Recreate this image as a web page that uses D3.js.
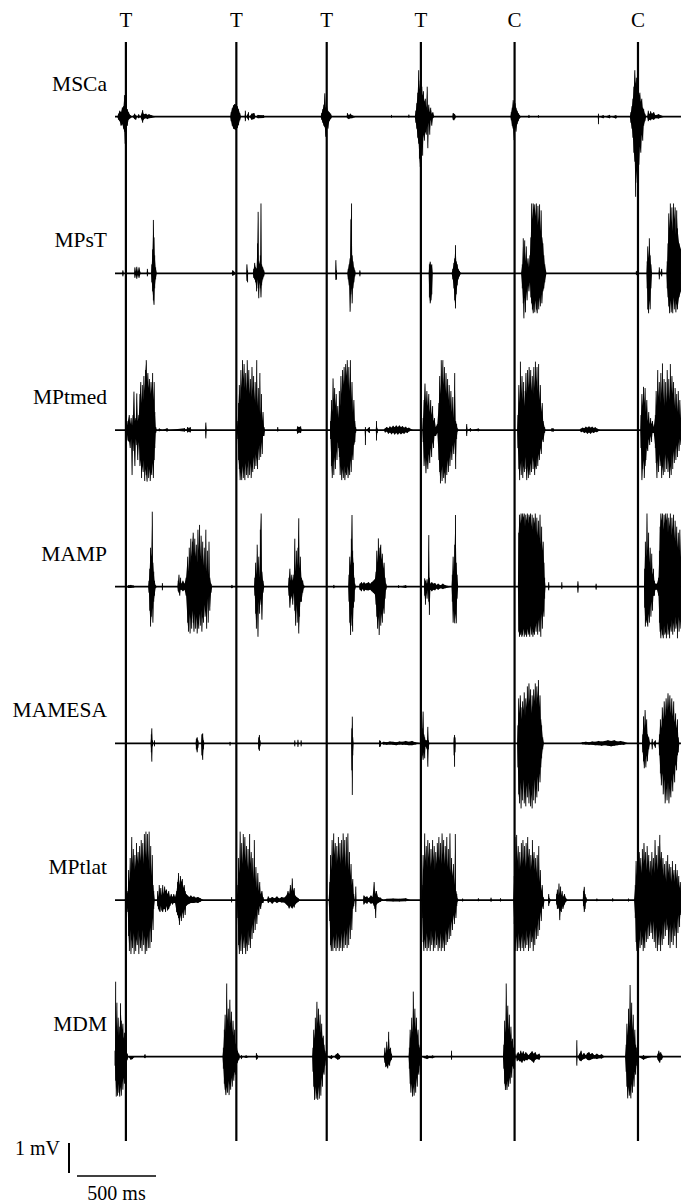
<!DOCTYPE html>
<html>
<head>
<meta charset="utf-8">
<script src="https://cdn.jsdelivr.net/npm/d3@7"></script>
<style>
  body { margin: 0; background: #fff; }
  svg { display: block; }
</style>
</head>
<body>
<div id="container"></div>
<script>
"use strict";

// SECTION: data (time in ms, amplitude in mV: [t, up, down])
const eventTimes = [69, 768, 1340, 1936, 2529, 3310];
const eventLabels = ["T", "T", "T", "T", "C", "C"];
const channelNames = ["MSCa", "MPsT", "MPtmed", "MAMP", "MAMESA", "MPtlat", "MDM"];

const traceMSCa = [
  [0,0,0],[14,0,0],[22,0.1,0.1],[30,0.2,0.15],[38,0.15,0.3],[46,0.3,0.25],[54,0.35,0.4],[60,0.72,0.5],[64,0.4,0.9],[70,0.3,0.35],[78,0.25,0.3],[86,0.15,0.1],[97,0.05,0.05],
  [110,0,0],[124,0.1,0.08],[132,0.05,0.1],[140,0,0],[150,0.08,0.05],[160,0,0],[175,0.22,0.2],[180,0.1,0.1],[188,0.08,0.06],[196,0.1,0.05],[205,0.06,0.08],[215,0.08,0.05],[230,0.05,0.04],[262,0,0],
  [729,0,0],[735,0.15,0.15],[742,0.28,0.3],[750,0.38,0.4],[758,0.42,0.42],[766,0.4,0.45],[774,0.35,0.38],[782,0.25,0.28],[790,0.12,0.12],[798,0,0],
  [820,0,0],[825,0.2,0.15],[830,0,0],[845,0.15,0.12],[850,0,0],[865,0.1,0.1],[880,0.12,0.08],[890,0,0],[905,0.06,0.05],[940,0.05,0.04],[950,0,0],
  [1301,0,0],[1308,0.12,0.1],[1315,0.25,0.2],[1322,0.4,0.3],[1328,0.78,0.35],[1334,0.3,0.67],[1340,0.35,0.3],[1348,0.2,0.4],[1356,0.15,0.15],[1365,0.1,0.08],[1375,0,0],
  [1465,0,0],[1471,0.12,0.05],[1480,0.05,0.08],[1490,0.1,0.05],[1500,0.05,0.05],[1526,0,0],
  [1745,0,0],[1750,0.06,0.03],[1755,0,0],[1855,0,0],[1860,0.07,0.03],[1865,0,0],
  [1897,0,0],[1904,0.2,0.2],[1910,0.45,0.4],[1916,0.8,0.7],[1922,1.55,0.9],[1927,0.9,1.4],[1932,1.2,1.67],[1937,0.8,1.1],[1942,1.0,0.9],[1947,0.7,1.3],[1952,0.85,0.6],[1958,0.5,0.8],[1964,0.6,0.5],[1970,0.3,0.6],[1976,1.0,0.3],[1980,0.2,1.05],[1986,0.4,0.2],[1992,0.15,0.6],[1998,0.3,0.1],[2005,0.1,0.3],[2012,0.15,0.05],[2021,0,0],
  [2135,0,0],[2140,0.12,0.1],[2145,0.1,0.12],[2150,0.08,0.08],[2160,0,0],
  [2502,0,0],[2508,0.15,0.12],[2514,0.3,0.3],[2520,0.55,0.4],[2526,0.35,0.78],[2532,0.45,0.35],[2538,0.3,0.5],[2545,0.2,0.25],[2552,0.12,0.15],[2560,0.06,0.06],[2571,0,0],
  [2615,0,0],[2620,0.06,0.04],[2625,0,0],[2675,0,0],[2680,0.05,0.03],[2685,0,0],
  [3055,0,0],[3060,0.1,0.25],[3065,0,0],[3090,0.05,0.05],[3100,0,0],[3130,0.06,0.05],[3140,0,0],[3170,0.05,0.06],[3180,0,0],
  [3258,0,0],[3265,0.15,0.2],[3272,0.35,0.4],[3278,0.6,0.7],[3284,1.0,1.2],[3290,1.55,1.5],[3295,1.1,2.67],[3300,1.3,1.8],[3305,0.9,2.2],[3310,1.1,1.4],[3316,0.7,1.6],[3322,0.8,1.0],[3328,0.5,1.2],[3334,0.6,0.6],[3340,0.3,0.8],[3346,0.25,0.3],[3354,0.1,0.15],[3362,0,0],
  [3368,0,0],[3375,0.2,0.15],[3382,0.08,0.1],[3390,0.18,0.12],[3398,0.1,0.08],[3410,0.15,0.1],[3420,0.05,0.05],[3440,0.08,0.06],[3478,0,0],[3582,0,0]
];

const traceMPsT = [
  [0,0,0],[45,0,0],[50,0.1,0.1],[56,0,0],
  [121,0,0],[126,0.2,0.15],[132,0.05,0.05],[138,0.22,0.18],[145,0.05,0.05],[152,0.2,0.15],[163,0,0],
  [200,0,0],[205,0.15,0.1],[212,0,0],
  [228,0,0],[233,0.3,0.3],[238,0.8,0.6],[243,1.78,0.9],[247,1.2,1.05],[251,0.6,0.5],[257,0.2,0.2],[265,0,0],
  [737,0,0],[745,0.1,0.08],[755,0.05,0.05],[761,0,0],
  [831,0,0],[835,0.3,0.25],[839,0.1,0.3],[843,0,0],
  [872,0,0],[878,0.15,0.15],[884,0.35,0.2],[890,0.2,0.3],[896,0.15,0.6],[902,1.0,0.2],[906,2.05,0.5],[910,0.4,0.83],[915,0.3,0.3],[920,0.6,0.5],[924,2.33,0.8],[928,0.3,0.4],[935,0.2,0.2],[942,0.1,0.1],[948,0,0],
  [1394,0,0],[1398,0.44,0.22],[1402,0.1,0.2],[1406,0,0],
  [1470,0,0],[1476,0.15,0.2],[1482,0.3,0.4],[1488,0.5,1.28],[1493,1.8,0.7],[1497,2.33,0.5],[1501,0.6,1.0],[1506,0.4,0.5],[1512,0.2,0.3],[1518,0.1,0.1],[1523,0,0],
  [1545,0,0],[1550,0.1,0.1],[1555,0,0],
  [1930,0,0],[1935,0.08,0.08],[1940,0,0],
  [1985,0,0],[1990,0.3,0.8],[1995,0.39,1.0],[2000,0.25,0.9],[2005,0.3,0.7],[2011,0,0],
  [2130,0,0],[2138,0.15,0.2],[2145,0.35,0.5],[2150,0.5,0.9],[2155,0.94,1.17],[2160,0.4,0.7],[2166,0.3,0.4],[2172,0.15,0.2],[2180,0.08,0.1],[2191,0,0],
  [2570,0,0],[2578,0.3,0.5],[2584,1.17,1.0],[2588,0.5,1.5],[2593,1.1,0.8],[2598,0.4,1.3],[2603,0.9,0.6],[2608,0.3,0.9],[2614,0.5,0.4],[2620,0.2,0.6],[2626,0.6,0.3],[2632,1.2,0.8],[2637,2.33,1.0],[2642,1.8,1.2],[2647,2.33,1.33],[2652,2.1,1.0],[2657,2.3,1.3],[2662,1.9,0.9],[2667,2.33,1.2],[2672,1.6,1.33],[2677,2.25,0.9],[2682,1.7,1.2],[2687,2.3,0.8],[2692,1.4,1.1],[2697,2.1,0.7],[2702,1.2,1.0],[2708,1.0,0.6],[2714,0.6,0.5],[2720,0.3,0.3],[2731,0,0],
  [3295,0,0],[3300,0.08,0.06],[3305,0,0],
  [3364,0,0],[3368,0.4,0.5],[3372,0.9,1.2],[3377,0.5,1.33],[3382,1.17,0.9],[3387,0.6,1.2],[3392,0.3,0.5],[3399,0,0],
  [3440,0,0],[3445,0.2,0.2],[3450,0,0],[3460,0.15,0.1],[3465,0,0],
  [3490,0,0],[3495,0.4,0.5],[3500,1.0,0.8],[3505,2.0,1.1],[3510,1.5,1.33],[3515,2.33,0.9],[3520,1.7,1.3],[3525,2.2,1.0],[3530,1.4,1.33],[3535,2.33,0.8],[3540,1.8,1.2],[3545,2.2,0.9],[3550,1.3,1.3],[3555,2.1,1.0],[3560,1.5,1.2],[3570,1.0,0.8],[3582,0.8,0.6]
];

const traceMPtmed = [
  [0,0,0],[60,0,0],[74,0.1,0.1],[82,0.3,0.35],[90,0.5,0.4],[96,0.2,0.6],[102,0.4,0.3],[108,0.15,1.5],[114,0.5,0.4],[120,1.28,0.7],[126,0.3,1.2],[132,0.4,0.3],[138,1.22,0.5],[144,0.3,1.0],[151,0.5,0.4],
  [158,1.2,1.2],[163,1.6,1.0],[168,0.9,1.6],[173,1.5,1.2],[178,1.0,1.4],[183,1.8,1.0],[188,1.3,1.7],[193,2.0,1.3],[198,2.33,1.5],[203,1.6,1.72],[208,1.9,1.2],[213,1.4,1.6],[218,1.7,1.3],[223,1.2,1.7],[228,1.6,1.4],[233,1.3,1.5],[238,1.9,1.1],[243,1.0,1.6],[248,1.6,1.0],[252,0.6,0.6],[258,0.1,0.1],[265,0,0],
  [275,0,0],[280,0.05,0.04],[300,0,0],[330,0.06,0.05],[340,0,0],[440,0.06,0.05],[450,0,0],[460,0.1,0.08],[468,0.05,0.05],[476,0.1,0.08],[484,0,0],[570,0,0],[575,0.25,0.28],[580,0,0],
  [770,0,0],[777,0.3,0.3],[782,0.9,1.0],[787,1.5,1.3],[792,1.0,1.67],[797,2.0,1.4],[802,1.4,1.67],[807,2.33,1.2],[812,1.7,1.6],[817,2.2,1.3],[822,1.4,1.67],[827,1.9,1.1],[832,1.3,1.5],[837,2.33,1.2],[842,1.5,1.6],[847,2.0,1.0],[852,1.2,1.5],[857,1.7,1.1],[862,1.1,1.6],[867,2.1,1.2],[872,1.3,1.4],[877,1.8,0.9],[882,1.0,1.3],[887,1.6,0.8],[892,0.9,1.2],[897,2.33,0.9],[902,0.8,1.3],[907,1.4,0.6],[912,0.6,1.0],[917,1.9,0.5],[922,0.5,0.9],[927,1.2,0.4],[932,0.3,0.8],[937,0.6,0.2],[943,0.1,0.2],[950,0,0],
  [1025,0,0],[1030,0.1,0.05],[1035,0,0],[1148,0,0],[1155,0.12,0.12],[1165,0.1,0.08],[1175,0.12,0.1],[1183,0,0],
  [1360,0,0],[1364,0.3,0.3],[1370,1.0,1.2],[1375,0.6,1.6],[1380,1.72,1.0],[1385,1.0,1.5],[1390,1.4,0.9],[1395,0.8,1.3],[1400,1.2,0.7],[1405,0.5,1.0],[1410,0.8,0.4],[1415,0.4,0.6],[1420,1.3,0.9],[1425,0.8,1.5],[1430,1.8,1.2],[1435,1.2,1.67],[1440,2.0,1.3],[1445,1.5,1.6],[1450,2.1,1.2],[1455,1.6,1.67],[1460,2.2,1.4],[1465,1.8,1.5],[1470,2.33,1.2],[1475,1.5,1.6],[1480,2.1,1.3],[1485,1.3,1.5],[1490,2.33,1.0],[1495,1.0,1.4],[1500,1.6,0.8],[1506,0.6,1.0],[1512,1.0,0.5],[1518,0.3,0.4],[1523,0.1,0.1],[1530,0,0],
  [1580,0,0],[1585,0.1,0.5],[1590,0,0],[1610,0.1,0.1],[1615,0,0],[1650,0,0],[1655,0.3,0.35],[1660,0.05,0.1],[1665,0,0],
  [1700,0,0],[1710,0.06,0.08],[1720,0.1,0.05],[1730,0.06,0.12],[1740,0.12,0.08],[1750,0.08,0.14],[1760,0.14,0.09],[1770,0.09,0.15],[1780,0.15,0.1],[1790,0.1,0.15],[1800,0.15,0.1],[1810,0.1,0.14],[1820,0.13,0.1],[1830,0.08,0.12],[1840,0.11,0.07],[1850,0.06,0.1],[1860,0.08,0.05],[1886,0,0],
  [1945,0,0],[1950,0.4,0.4],[1956,1.0,1.2],[1962,1.55,0.9],[1968,0.9,1.44],[1974,1.3,1.0],[1980,0.8,1.3],[1986,1.2,0.8],[1992,0.6,1.1],[1998,1.0,0.6],[2004,0.5,0.9],[2010,0.8,0.4],[2016,0.3,0.6],[2022,0.4,0.2],[2030,0.1,0.2],[2040,0.2,0.1],
  [2050,0.9,1.0],[2055,1.8,1.4],[2060,1.2,1.78],[2065,2.33,1.3],[2070,1.6,1.7],[2075,2.33,1.2],[2080,1.5,1.6],[2085,2.1,1.4],[2090,1.3,1.78],[2095,1.9,1.2],[2100,1.2,1.5],[2105,1.7,1.0],[2110,1.0,1.4],[2115,1.5,0.9],[2120,0.8,1.2],[2126,1.3,0.7],[2132,0.6,1.0],[2138,1.1,0.5],[2144,0.4,0.8],[2150,1.9,0.4],[2156,0.3,1.3],[2162,0.2,0.3],[2168,0.05,0.05],[2175,0,0],
  [2220,0,0],[2226,0.2,0.2],[2232,0,0],[2250,0.06,0.05],[2260,0,0],[2300,0.05,0.04],[2310,0,0],
  [2545,0,0],[2550,0.5,0.6],[2556,1.5,1.3],[2561,0.9,1.67],[2566,2.28,1.1],[2571,1.2,1.5],[2576,1.8,1.0],[2581,1.0,1.6],[2586,1.6,1.2],[2591,0.8,1.4],[2596,1.3,0.9],[2601,1.9,1.3],[2606,1.2,1.67],[2611,2.0,1.2],[2616,1.4,1.6],[2621,2.1,1.3],[2626,1.5,1.5],[2631,2.0,1.1],[2636,1.3,1.4],[2641,1.8,0.9],[2646,1.2,1.3],[2651,2.1,1.0],[2656,1.4,1.5],[2661,2.28,1.2],[2666,1.6,1.3],[2671,2.1,0.9],[2676,1.3,1.2],[2681,2.2,0.8],[2686,1.0,1.0],[2692,1.5,0.6],[2698,0.6,0.8],[2704,0.9,0.3],[2710,0.3,0.4],[2719,0.1,0.1],[2726,0,0],
  [2760,0,0],[2765,0.06,0.05],[2775,0.05,0.05],[2780,0,0],
  [2940,0,0],[2950,0.05,0.07],[2960,0.08,0.05],[2970,0.06,0.1],[2980,0.11,0.07],[2990,0.08,0.12],[3000,0.12,0.08],[3010,0.08,0.12],[3020,0.11,0.07],[3030,0.07,0.1],[3040,0.09,0.06],[3050,0.05,0.07],[3071,0,0],
  [3325,0,0],[3329,0.5,0.6],[3335,1.2,1.67],[3340,0.8,1.3],[3345,1.44,1.0],[3350,0.9,1.6],[3355,1.4,1.2],[3360,0.6,1.0],[3366,1.0,0.6],[3372,0.3,0.7],[3378,0.6,0.3],[3384,0.2,0.5],[3390,0.4,0.2],[3396,0.2,0.4],[3402,0.3,0.1],[3410,0.1,0.1],
  [3420,0.5,0.6],[3425,1.3,1.1],[3430,0.8,1.6],[3435,2.0,1.0],[3440,1.1,1.4],[3445,1.6,0.8],[3450,0.9,1.2],[3455,1.9,1.0],[3460,1.2,1.6],[3465,2.22,1.2],[3470,1.0,1.5],[3475,1.7,0.9],[3480,0.8,1.4],[3485,1.6,0.8],[3490,0.9,1.3],[3495,2.0,0.9],[3500,1.1,1.4],[3505,1.7,1.0],[3510,1.0,1.6],[3515,2.2,1.2],[3520,1.3,1.5],[3525,1.8,0.8],[3530,1.2,1.3],[3535,1.6,0.7],[3540,0.8,1.1],[3545,1.4,0.6],[3550,0.7,1.0],[3555,1.2,0.5],[3560,0.6,0.9],[3565,1.3,0.4],[3570,0.5,0.7],[3575,1.0,0.3],[3582,0.4,0.5]
];

const traceMAMP = [
  [0,0,0],[75,0,0],[85,0.05,0.04],[100,0.06,0.04],[115,0.04,0.03],[135,0,0],
  [210,0,0],[215,0.2,0.2],[220,0.6,0.8],[225,1.3,1.33],[230,1.0,1.0],[236,2.5,0.7],[240,0.8,1.2],[245,0.5,0.5],[250,0.2,0.3],[257,0.05,0.05],[265,0,0],
  [296,0,0],[300,0.12,0.12],[304,0,0],
  [395,0,0],[400,0.2,0.15],[405,0.4,0.2],[410,0.1,0.3],[415,0.3,0.1],[420,0.1,0.1],[430,0.2,0.15],[440,0.1,0.1],[450,0.3,0.3],[460,1.0,1.2],[465,0.5,1.5],[470,1.3,0.9],[475,0.8,1.56],[480,1.6,1.0],[485,1.0,1.4],[490,1.5,0.8],[495,1.8,1.2],[500,1.1,1.5],[505,1.6,0.9],[510,1.0,1.4],[515,1.4,1.0],[520,0.8,1.56],[525,1.9,1.2],[530,1.2,1.4],[535,2.06,0.9],[540,1.0,1.3],[545,1.7,0.8],[550,0.9,1.5],[555,1.5,1.0],[560,0.7,1.2],[565,1.3,0.6],[570,0.6,1.0],[575,1.9,0.8],[580,0.5,1.4],[585,1.2,0.4],[590,0.4,1.2],[595,1.5,0.3],[600,0.3,0.8],[608,0.1,0.2],[615,0,0],
  [730,0,0],[740,0.06,0.05],[750,0,0],
  [880,0,0],[885,0.3,0.3],[890,0.8,0.9],[895,0.4,1.4],[900,1.4,0.8],[905,0.6,1.67],[910,1.0,0.5],[915,0.3,0.9],[920,1.9,0.4],[925,2.44,0.6],[930,0.5,1.1],[937,0.2,0.2],[945,0,0],
  [1095,0,0],[1101,0.3,0.3],[1107,0.6,0.7],[1113,0.2,0.4],[1119,0.4,0.3],[1125,0.2,0.6],[1132,0.4,0.2],[1138,1.6,0.8],[1143,0.5,1.3],[1148,1.2,0.6],[1153,0.7,1.2],[1158,1.3,0.8],[1163,2.28,1.56],[1168,0.6,1.0],[1173,1.0,0.5],[1180,0.3,0.5],[1188,0.2,0.2],[1195,0.05,0.05],[1202,0,0],
  [1380,0,0],[1385,0.06,0.05],[1392,0,0],
  [1476,0,0],[1481,0.4,0.5],[1486,1.0,1.2],[1491,0.7,1.61],[1496,1.6,0.9],[1500,2.39,1.3],[1504,1.2,1.5],[1509,0.8,0.7],[1514,0.3,0.5],[1518,0.1,0.1],[1525,0,0],
  [1545,0,0],[1550,0.1,0.1],[1560,0.15,0.15],[1568,0.1,0.08],[1576,0.15,0.15],[1585,0.1,0.1],[1595,0.12,0.12],[1605,0.15,0.12],[1615,0.1,0.1],[1625,0.15,0.15],[1635,0.2,0.2],[1645,0.25,0.25],
  [1652,0.5,0.6],[1657,1.2,1.0],[1662,0.8,1.4],[1667,1.61,1.0],[1672,1.0,1.61],[1677,1.3,0.8],[1682,1.4,1.3],[1687,0.9,0.9],[1692,1.1,1.2],[1697,0.6,0.7],[1703,0.8,0.9],[1709,0.3,0.4],[1715,0.1,0.1],[1722,0,0],
  [1790,0,0],[1795,0.05,0.04],[1800,0,0],[1840,0.05,0.04],[1850,0,0],
  [1955,0,0],[1960,0.28,0.3],[1965,0.2,0.6],[1970,0.1,0.2],[1975,0.25,0.4],[1980,0.1,0.1],[1986,1.72,0.5],[1990,0.3,0.94],[1996,0.1,0.1],[2005,0.15,0.15],[2015,0.1,0.1],[2025,0.12,0.12],[2035,0.06,0.06],[2045,0.1,0.1],[2060,0.05,0.05],[2075,0.1,0.08],[2090,0.05,0.05],
  [2130,0,0],[2135,0.4,0.5],[2140,1.0,1.2],[2145,0.5,0.8],[2150,1.4,1.22],[2155,2.39,0.9],[2160,0.8,1.22],[2165,0.4,0.4],[2172,0,0],
  [2550,0,0],[2555,1.8,1.5],[2560,2.4,1.67],[2565,2.1,1.6],[2570,2.44,1.5],[2575,2.2,1.67],[2580,2.44,1.6],[2585,2.3,1.4],[2590,2.44,1.67],[2595,2.0,1.5],[2600,2.4,1.6],[2605,2.2,1.67],[2610,2.44,1.4],[2615,2.1,1.6],[2620,2.4,1.5],[2625,2.3,1.67],[2630,2.44,1.3],[2635,2.0,1.6],[2640,2.4,1.4],[2645,1.9,1.67],[2650,2.3,1.5],[2655,2.1,1.6],[2660,2.44,1.3],[2665,1.8,1.5],[2670,2.3,1.2],[2675,1.7,1.6],[2680,2.2,1.1],[2685,1.6,1.5],[2690,2.4,1.0],[2695,1.4,1.67],[2700,2.0,0.9],[2705,1.2,1.4],[2710,1.5,0.8],[2715,0.8,1.0],[2719,0.3,0.4],[2725,0,0],
  [2740,0,0],[2745,0.15,0.12],[2750,0,0],[2825,0,0],[2828,0.15,0.08],[2832,0,0],[2925,0,0],[2930,0.18,0.2],[2935,0,0],[3040,0,0],[3045,0.1,0.1],[3050,0,0],
  [3348,0,0],[3352,0.6,0.7],[3357,1.5,1.33],[3362,1.0,1.1],[3367,2.44,1.2],[3372,1.2,1.33],[3377,1.8,0.9],[3382,0.8,1.2],[3387,1.3,0.6],[3392,0.6,1.0],[3397,1.1,0.5],[3402,0.4,0.8],[3408,0.6,0.3],[3414,0.2,0.3],[3420,0.1,0.1],[3430,0.1,0.1],[3440,0.3,0.3],
  [3446,1.2,1.2],[3450,2.0,1.5],[3455,2.44,1.72],[3460,2.2,1.4],[3465,2.44,1.6],[3470,1.9,1.72],[3475,2.4,1.3],[3480,2.1,1.6],[3485,2.44,1.5],[3490,2.2,1.72],[3495,2.44,1.2],[3500,1.8,1.6],[3505,2.3,1.4],[3510,2.0,1.72],[3515,2.44,1.3],[3520,1.7,1.5],[3525,2.3,1.1],[3530,1.9,1.6],[3535,2.4,1.2],[3540,1.6,1.5],[3545,2.2,1.0],[3550,1.5,1.4],[3555,2.0,1.2],[3560,1.3,1.72],[3565,1.8,1.0],[3570,1.2,1.5],[3575,1.9,1.1],[3582,1.0,1.4]
];

const traceMAMESA = [
  [0,0,0],[225,0,0],[230,0.3,0.3],[233,0.5,0.61],[237,0.1,0.1],[245,0,0],[250,0.1,0.1],[255,0,0],
  [510,0,0],[515,0.15,0.2],[520,0.2,0.3],[525,0.1,0.15],[530,0,0],[545,0,0],[550,0.3,0.4],[555,0.33,0.55],[560,0.1,0.2],[566,0,0],
  [725,0,0],[728,0.05,0.08],[732,0,0],
  [905,0,0],[910,0.2,0.2],[914,0.28,0.25],[918,0.1,0.1],[922,0,0],
  [1135,0,0],[1138,0.1,0.1],[1142,0,0],[1155,0,0],[1158,0.12,0.12],[1162,0,0],[1175,0,0],[1178,0.1,0.1],[1182,0,0],
  [1495,0,0],[1499,0.5,0.9],[1502,0.89,1.72],[1505,0.2,0.4],[1510,0,0],
  [1670,0,0],[1675,0.1,0.12],[1680,0.08,0.1],[1685,0,0],[1700,0.05,0.04],[1720,0.04,0.05],[1740,0.06,0.04],[1760,0.05,0.05],[1780,0.04,0.06],[1800,0.06,0.04],[1820,0.05,0.05],[1840,0.08,0.05],[1860,0.05,0.06],[1880,0.08,0.06],[1900,0.04,0.04],[1935,0,0],
  [1940,0,0],[1945,0.5,0.4],[1950,1.06,0.55],[1955,0.3,0.3],[1960,0.2,0.5],[1965,0.1,0.1],[1975,0.1,0.2],[1980,0.55,0.78],[1984,0.1,0.2],[1990,0,0],
  [2143,0,0],[2146,0.2,0.4],[2149,0.28,0.78],[2152,0.2,0.3],[2156,0,0],
  [2545,0,0],[2550,0.6,0.8],[2555,1.5,1.7],[2560,1.0,2.0],[2565,1.6,1.3],[2570,1.2,2.17],[2575,0.8,1.5],[2580,1.4,1.9],[2585,1.1,1.2],[2590,1.7,2.0],[2595,0.9,1.6],[2600,1.5,2.1],[2605,1.2,1.4],[2610,1.9,1.8],[2615,1.3,1.3],[2620,2.0,2.0],[2625,1.4,1.5],[2630,1.8,2.1],[2635,1.0,1.7],[2640,1.6,2.17],[2645,1.2,1.4],[2650,1.8,1.9],[2655,1.4,1.2],[2660,2.0,2.0],[2665,1.3,1.5],[2670,1.9,1.8],[2675,1.5,1.1],[2680,2.11,1.6],[2685,1.2,1.0],[2690,1.6,1.3],[2695,0.8,0.8],[2700,0.6,0.5],[2707,0.2,0.2],[2715,0,0],
  [2940,0,0],[2960,0.04,0.03],[2980,0.05,0.04],[3000,0.04,0.05],[3020,0.06,0.05],[3040,0.05,0.06],[3060,0.08,0.06],[3080,0.06,0.08],[3100,0.08,0.06],[3120,0.1,0.08],[3140,0.08,0.1],[3160,0.1,0.08],[3180,0.06,0.06],[3200,0.08,0.05],[3220,0.05,0.05],[3250,0,0],
  [3335,0,0],[3340,0.3,0.3],[3345,0.9,0.6],[3350,0.5,0.83],[3355,1.11,0.5],[3360,0.6,0.8],[3365,0.8,0.4],[3370,0.3,0.6],[3378,0.2,0.2],[3387,0,0],
  [3395,0,0],[3400,0.15,0.2],[3405,0,0],[3420,0.1,0.15],[3425,0,0],
  [3440,0,0],[3446,0.3,0.4],[3452,0.8,1.0],[3458,0.5,1.4],[3464,1.2,1.0],[3470,0.8,1.7],[3476,1.4,1.2],[3482,0.9,2.0],[3488,1.5,1.5],[3494,1.1,1.9],[3500,1.67,1.3],[3506,1.2,2.0],[3512,1.6,1.5],[3518,1.0,1.8],[3524,1.5,1.2],[3530,0.9,1.6],[3536,1.4,1.0],[3542,0.7,1.3],[3548,1.0,0.7],[3554,0.5,0.9],[3560,0.8,0.4],[3565,0.2,0.3],[3572,0,0],[3582,0,0]
];

const traceMPtlat = [
  [0,0,0],[60,0,0],[70,0.1,0.1],[81,0.3,0.4],[86,1.0,1.2],[91,0.6,1.7],[96,1.4,1.0],[101,0.9,1.8],[106,2.1,1.3],[111,1.2,1.6],[116,1.7,1.1],[121,1.0,1.8],[126,1.5,1.2],[131,1.1,1.7],[136,1.9,1.3],[141,1.3,1.5],[146,1.6,1.0],[151,1.2,1.8],[156,1.8,1.2],[161,1.3,1.6],[166,2.0,1.3],[171,1.4,1.7],[176,1.9,1.0],[181,1.2,1.5],[186,2.2,1.2],[191,1.5,1.8],[196,2.28,1.3],[201,1.4,1.7],[206,2.2,1.2],[211,1.3,1.6],[216,2.28,1.0],[221,1.0,1.6],[226,1.8,0.9],[231,0.8,1.4],[236,1.5,0.6],[241,0.5,1.0],[245,0.3,0.3],[252,0,0],
  [265,0,0],[270,0.3,0.2],[275,0.1,0.3],[280,0.5,0.35],[285,0.2,0.4],[290,0.4,0.2],[296,0.15,0.35],[302,0.5,0.4],[308,0.2,0.3],[314,0.45,0.3],[320,0.3,0.4],[326,0.35,0.2],[332,0.2,0.35],[340,0.3,0.3],[348,0.1,0.2],[356,0.2,0.1],[364,0.1,0.15],[372,0.2,0.1],[380,0.1,0.1],[390,0.3,0.4],[396,0.6,0.5],[402,0.9,0.6],[408,0.5,0.83],[414,0.8,0.5],[420,0.6,0.7],[426,0.7,0.4],[432,0.4,0.6],[438,0.5,0.3],[444,0.3,0.5],[450,0.2,0.2],[460,0.15,0.15],[470,0.1,0.12],[480,0.15,0.1],[490,0.1,0.1],[500,0.12,0.1],[510,0.08,0.08],[525,0.1,0.1],[540,0.06,0.06],[560,0,0],
  [735,0,0],[738,0.1,0.08],[742,0,0],
  [770,0,0],[777,0.5,0.6],[782,1.4,1.5],[787,0.9,1.8],[792,2.28,1.3],[797,1.3,1.7],[802,1.9,1.1],[807,1.2,1.8],[812,2.2,1.3],[817,1.5,1.6],[822,2.1,1.2],[827,1.3,1.8],[832,1.8,1.4],[837,1.1,1.7],[842,1.7,1.0],[847,1.0,1.5],[852,2.2,1.2],[857,1.2,1.6],[862,1.6,0.9],[867,0.9,1.3],[872,1.4,0.8],[877,0.7,1.1],[882,2.0,0.6],[887,0.6,1.0],[892,1.1,0.5],[898,0.4,0.8],[904,0.9,0.3],[910,0.3,0.5],[916,0.6,0.2],[922,0.2,0.3],[930,0.3,0.1],[937,0.1,0.1],[945,0,0],
  [960,0,0],[970,0.12,0.1],[980,0.05,0.05],[995,0.1,0.12],[1010,0.06,0.05],[1025,0.12,0.1],[1040,0.05,0.06],[1055,0.1,0.08],[1070,0.08,0.08],[1085,0.15,0.15],[1095,0.3,0.2],[1102,0.2,0.28],[1110,0.5,0.2],[1116,0.3,0.25],[1122,0.72,0.28],[1128,0.3,0.2],[1134,0.4,0.25],[1140,0.15,0.15],[1150,0.1,0.1],[1160,0.06,0.06],[1171,0,0],
  [1352,0,0],[1359,0.6,0.7],[1364,1.5,1.5],[1369,1.0,1.7],[1374,2.0,1.3],[1379,1.4,1.7],[1384,2.22,1.2],[1389,1.5,1.6],[1394,1.9,1.3],[1399,1.2,1.7],[1404,1.8,1.1],[1409,1.3,1.6],[1414,2.1,1.2],[1419,1.4,1.7],[1424,1.9,1.3],[1429,1.2,1.6],[1434,2.0,1.1],[1439,1.3,1.7],[1444,2.22,1.2],[1449,1.4,1.6],[1454,2.0,1.0],[1459,1.1,1.5],[1464,2.1,1.1],[1469,1.2,1.6],[1474,2.22,0.9],[1479,1.0,1.5],[1484,1.6,0.8],[1489,0.8,1.3],[1494,1.2,0.6],[1499,0.5,1.0],[1505,0.7,0.3],[1511,0.2,0.2],[1518,0,0],
  [1520,0,0],[1524,0.45,0.4],[1528,0,0],[1570,0,0],[1575,0.15,0.15],[1585,0.1,0.08],[1595,0.12,0.12],[1605,0.06,0.06],[1620,0.15,0.12],[1630,0.1,0.1],[1640,0.6,0.2],[1645,0.3,0.3],[1650,0.2,0.6],[1655,0.3,0.15],[1665,0.1,0.1],[1680,0.08,0.06],[1700,0,0],[1720,0.04,0.04],[1760,0.05,0.05],[1800,0.04,0.05],[1840,0.06,0.04],[1870,0,0],
  [1940,0,0],[1945,0.5,0.6],[1950,1.5,1.4],[1955,1.0,1.7],[1960,2.22,1.3],[1965,1.3,1.6],[1970,1.8,1.1],[1975,1.1,1.7],[1980,2.0,1.2],[1985,1.4,1.6],[1990,1.9,1.3],[1995,1.1,1.7],[2000,1.7,1.0],[2005,1.2,1.5],[2010,2.0,1.2],[2015,1.3,1.7],[2020,1.8,1.3],[2025,1.0,1.6],[2030,1.6,1.0],[2035,1.2,1.5],[2040,1.9,1.2],[2045,1.4,1.7],[2050,2.1,1.3],[2055,1.3,1.6],[2060,1.9,1.1],[2065,1.2,1.7],[2070,2.22,1.2],[2075,1.5,1.6],[2080,2.0,1.3],[2085,1.2,1.7],[2090,1.8,1.0],[2095,1.3,1.5],[2100,2.1,1.1],[2105,1.1,1.4],[2110,1.7,0.9],[2115,1.0,1.3],[2120,2.22,0.8],[2125,0.9,1.2],[2130,1.4,0.7],[2136,0.8,1.0],[2142,1.2,0.5],[2148,0.5,0.8],[2154,2.2,0.4],[2158,0.3,0.6],[2163,0.2,0.2],[2168,0.05,0.05],[2175,0,0],
  [2195,0,0],[2200,0.05,0.05],[2205,0,0],[2295,0,0],[2300,0.06,0.04],[2305,0,0],[2375,0,0],[2380,0.08,0.06],[2385,0,0],[2435,0,0],[2440,0.06,0.05],[2445,0,0],
  [2520,0,0],[2527,0.8,0.8],[2532,2.1,1.4],[2537,1.2,1.7],[2542,2.17,1.2],[2547,1.3,1.7],[2552,1.8,1.1],[2557,1.0,1.6],[2562,1.6,1.3],[2567,1.1,1.7],[2572,1.9,1.2],[2577,1.2,1.6],[2582,2.0,1.1],[2587,1.3,1.7],[2592,1.8,1.3],[2597,1.1,1.6],[2602,1.9,1.0],[2607,1.2,1.5],[2612,2.1,1.2],[2617,1.4,1.7],[2622,1.7,1.1],[2627,1.0,1.6],[2632,1.5,1.0],[2637,1.1,1.4],[2642,2.0,1.2],[2647,1.3,1.7],[2652,1.6,1.0],[2657,1.0,1.5],[2662,1.4,0.9],[2667,0.9,1.3],[2672,1.5,0.8],[2677,0.7,1.2],[2682,1.8,0.6],[2687,0.6,1.0],[2692,1.0,0.4],[2698,0.3,0.7],[2704,0.5,0.2],[2710,0.1,0.3],[2719,0,0],
  [2740,0,0],[2745,0.2,0.2],[2750,0.05,0.1],[2760,0,0],[2790,0,0],[2795,0.2,0.15],[2800,0.35,0.3],[2805,0.15,0.25],[2810,0.55,0.3],[2815,0.2,0.67],[2820,0.45,0.35],[2825,0.15,0.4],[2830,0.3,0.2],[2835,0.1,0.3],[2845,0.2,0.15],[2855,0.05,0.05],[2865,0,0],
  [2960,0,0],[2965,0.3,0.2],[2970,0.44,0.4],[2975,0.2,0.3],[2980,0.1,0.1],[2991,0,0],
  [3045,0,0],[3050,0.05,0.04],[3055,0,0],[3145,0,0],[3150,0.06,0.05],[3155,0,0],[3245,0,0],[3250,0.05,0.05],[3255,0,0],
  [3285,0,0],[3293,0.5,0.6],[3298,1.3,1.4],[3303,0.8,1.7],[3308,1.5,1.2],[3313,1.0,1.7],[3318,1.6,1.3],[3323,1.1,1.6],[3328,1.4,1.0],[3333,0.9,1.5],[3338,1.7,1.2],[3343,1.2,1.7],[3348,1.9,1.3],[3353,1.3,1.6],[3358,1.6,1.0],[3363,1.0,1.4],[3368,1.8,0.9],[3373,1.2,1.3],[3378,1.5,0.8],[3383,0.9,1.2],[3388,1.3,0.7],[3393,0.8,1.1],[3398,1.6,0.8],[3403,1.0,1.3],[3408,1.4,0.7],[3413,0.9,1.4],[3418,2.0,1.0],[3423,1.2,1.6],[3428,1.5,0.9],[3433,1.0,1.7],[3438,1.8,1.2],[3443,1.1,1.5],[3448,2.17,1.0],[3453,1.3,1.7],[3458,1.6,1.1],[3463,1.0,1.5],[3468,1.4,0.8],[3473,0.8,1.3],[3478,1.2,0.7],[3483,0.7,1.2],[3488,1.3,0.6],[3493,0.6,1.0],[3498,1.5,0.8],[3503,0.9,1.5],[3508,1.2,0.9],[3513,0.7,1.6],[3518,1.1,0.8],[3523,0.6,1.4],[3528,1.3,0.9],[3533,0.8,1.5],[3538,1.0,0.7],[3543,0.6,1.2],[3548,1.2,0.9],[3553,0.7,1.6],[3558,1.0,0.6],[3563,0.5,1.1],[3568,0.8,0.5],[3573,0.4,0.9],[3578,0.6,0.5],[3582,0.3,0.4]
];

const traceMDM = [
  [0,0.2,0.3],[4,2.5,0.8],[8,1.0,1.33],[12,1.8,1.0],[16,0.8,1.3],[20,1.3,0.9],[25,0.7,1.2],[30,1.0,1.33],[35,1.78,1.0],[40,1.2,1.3],[45,0.9,0.8],[50,1.1,1.1],[55,0.6,0.7],[60,0.8,0.9],[65,0.4,0.5],[70,0.2,0.3],[78,0.1,0.1],[85,0,0],[100,0,0.1],[110,0,0.08],[125,0,0],
  [180,0,0],[190,0.08,0.05],[196,0,0],
  [680,0,0],[686,0.3,0.4],[692,0.9,0.9],[697,1.4,1.1],[702,0.8,1.28],[707,2.44,1.0],[712,1.2,1.2],[717,1.6,0.8],[722,1.0,1.28],[727,1.9,0.9],[732,1.1,1.1],[737,1.5,0.7],[742,0.8,1.0],[747,1.2,0.6],[752,0.7,0.8],[757,0.9,0.5],[762,0.4,0.6],[768,0.5,0.3],[775,0.2,0.2],[784,0.1,0.1],[792,0,0],
  [800,0.05,0.08],[810,0,0],[830,0.04,0.04],[850,0,0],[890,0,0],[895,0.12,0.1],[900,0.06,0.08],[905,0,0],
  [1248,0,0],[1253,0.3,0.5],[1258,0.9,1.0],[1263,0.6,1.44],[1268,1.3,1.0],[1273,0.9,1.4],[1278,1.83,1.2],[1283,1.1,1.44],[1288,1.6,1.0],[1293,1.0,1.4],[1298,1.4,0.9],[1303,0.8,1.3],[1308,1.1,0.7],[1313,0.6,1.0],[1318,0.7,0.5],[1323,0.4,0.6],[1329,0.2,0.3],[1335,0.1,0.1],[1342,0,0],
  [1360,0,0.05],[1370,0.05,0.08],[1385,0,0],[1400,0.08,0.06],[1410,0.12,0.1],[1420,0.06,0.08],[1430,0,0],
  [1700,0,0],[1708,0.3,0.2],[1714,0.1,0.35],[1720,0.5,0.3],[1726,0.2,0.39],[1732,0.83,0.25],[1738,0.25,0.3],[1744,0.3,0.15],[1750,0.1,0.1],[1757,0,0],
  [1858,0,0],[1863,0.3,0.4],[1868,0.9,0.9],[1873,0.6,1.2],[1878,1.3,0.9],[1883,0.8,1.33],[1888,2.17,1.0],[1893,1.1,1.3],[1898,1.6,0.9],[1903,0.9,1.2],[1908,1.3,0.7],[1913,0.7,1.0],[1918,0.9,0.5],[1923,0.4,0.6],[1928,0.3,0.3],[1933,0.1,0.1],[1940,0,0],
  [1960,0,0.05],[1975,0.05,0.08],[1990,0,0.04],[2010,0.04,0.05],[2030,0,0],[2125,0,0],[2130,0.2,0.1],[2135,0,0],
  [2455,0,0],[2461,0.4,0.4],[2466,1.2,0.9],[2471,0.8,1.11],[2476,2.44,0.9],[2481,1.2,1.11],[2486,1.7,0.8],[2491,0.9,1.0],[2496,1.4,0.7],[2501,0.7,0.9],[2506,1.0,0.5],[2511,0.5,0.7],[2516,0.6,0.3],[2522,0.3,0.4],[2531,0.1,0.1],[2538,0,0],
  [2545,0.1,0.15],[2552,0.15,0.1],[2560,0.08,0.15],[2568,0.2,0.15],[2576,0.1,0.2],[2584,0.18,0.12],[2592,0.08,0.15],[2600,0.15,0.1],[2608,0.1,0.12],[2616,0.05,0.08],[2630,0.12,0.1],[2640,0.18,0.15],[2650,0.1,0.2],[2660,0.15,0.1],[2670,0.06,0.08],[2685,0.1,0.1],[2695,0,0],
  [2920,0,0],[2923,0.55,0.3],[2927,0,0],[2940,0.1,0.12],[2950,0.2,0.15],[2958,0.06,0.1],[2968,0.12,0.08],[2980,0.05,0.05],[2990,0.12,0.1],[3000,0.15,0.12],[3010,0.08,0.1],[3020,0.12,0.08],[3035,0.05,0.06],[3050,0.1,0.08],[3065,0.05,0.05],[3080,0.08,0.06],[3100,0,0],
  [3228,0,0],[3235,0.4,0.5],[3240,1.1,1.0],[3245,0.7,1.39],[3250,1.6,1.0],[3255,1.0,1.3],[3260,2.39,1.1],[3265,1.2,1.39],[3270,1.8,0.9],[3275,0.9,1.2],[3280,1.4,0.7],[3285,0.6,1.0],[3290,0.9,0.5],[3295,0.4,0.6],[3300,0.3,0.3],[3305,0.1,0.1],[3312,0,0],
  [3330,0,0.05],[3345,0.05,0.1],[3360,0,0.06],[3400,0,0],[3430,0,0],[3436,0.1,0.1],[3442,0.2,0.15],[3448,0.1,0.2],[3454,0.15,0.1],[3460,0.08,0.1],[3470,0,0],[3582,0,0]
];

const traces = [traceMSCa, traceMPsT, traceMPtmed, traceMAMP, traceMAMESA, traceMPtlat, traceMDM];

// SECTION: scales
const width = 681, height = 1204;

const x = d3.scaleLinear()
    .domain([0, 3600])
    .range([115, 115 + 3600 * 0.158]);

const base = d3.scalePoint()
    .domain(channelNames)
    .range([116.7, 1056.7]);

// 1 mV = 30 px
const amp = d3.scaleLinear()
    .domain([0, 1])
    .range([0, 30]);

const svg = d3.select("#container")
    .append("svg")
    .attr("width", width)
    .attr("height", height)
    .style("font-family", "'Liberation Serif', 'DejaVu Serif', serif");

svg.append("rect")
    .attr("width", width)
    .attr("height", height)
    .attr("fill", "#fff");

// SECTION: traces
channelNames.forEach((name, i) => {
    const y0 = base(name);
    const pts = traces[i].slice().sort((a, b) => a[0] - b[0]);
    const g = svg.append("g").attr("class", "channel");

    g.append("line")
        .attr("x1", x(0))
        .attr("x2", x(pts[pts.length - 1][0]))
        .attr("y1", y0)
        .attr("y2", y0)
        .attr("stroke", "#000")
        .attr("stroke-width", 1.8);

    const area = d3.area()
        .x(d => x(d[0]))
        .y0(d => y0 + amp(d[2]))
        .y1(d => y0 - amp(d[1]));

    g.append("path")
        .datum(pts)
        .attr("d", area)
        .attr("fill", "#000");

    // each sample also as a thin spike, like the pen trace
    g.selectAll(".spike")
      .data(pts.filter(d => d[1] + d[2] > 0))
      .enter()
      .append("line")
        .attr("class", "spike")
        .attr("x1", d => x(d[0]))
        .attr("x2", d => x(d[0]))
        .attr("y1", d => y0 - amp(d[1]))
        .attr("y2", d => y0 + amp(d[2]))
        .attr("stroke", "#000")
        .attr("stroke-width", 0.9);

    g.append("text")
        .attr("x", 107)
        .attr("y", y0 - 26)
        .attr("text-anchor", "end")
        .style("font-size", "21.5px")
        .text(name);
});

// SECTION: event markers
svg.selectAll(".event")
    .data(eventTimes)
    .enter()
    .append("line")
      .attr("class", "event")
      .attr("x1", d => x(d))
      .attr("x2", d => x(d))
      .attr("y1", 42)
      .attr("y2", 1141)
      .attr("stroke", "#000")
      .attr("stroke-width", 2.2);

svg.selectAll(".eventlabel")
    .data(eventTimes)
    .enter()
    .append("text")
      .attr("class", "eventlabel")
      .attr("x", d => x(d))
      .attr("y", 27)
      .attr("text-anchor", "middle")
      .style("font-size", "21px")
      .text((d, i) => eventLabels[i]);

// SECTION: scale bars
svg.append("line")
    .attr("x1", 69).attr("x2", 69)
    .attr("y1", 1143).attr("y2", 1143 + amp(1))
    .attr("stroke", "#000")
    .attr("stroke-width", 2);

svg.append("text")
    .attr("x", 60)
    .attr("y", 1155)
    .attr("text-anchor", "end")
    .style("font-size", "20px")
    .text("1 mV");

svg.append("line")
    .attr("x1", 77).attr("x2", 77 + x(500) - x(0))
    .attr("y1", 1176).attr("y2", 1176)
    .attr("stroke", "#000")
    .attr("stroke-width", 1.6);

svg.append("text")
    .attr("x", 77 + (x(500) - x(0)) / 2)
    .attr("y", 1200)
    .attr("text-anchor", "middle")
    .style("font-size", "20px")
    .text("500 ms");
</script>
</body>
</html>
